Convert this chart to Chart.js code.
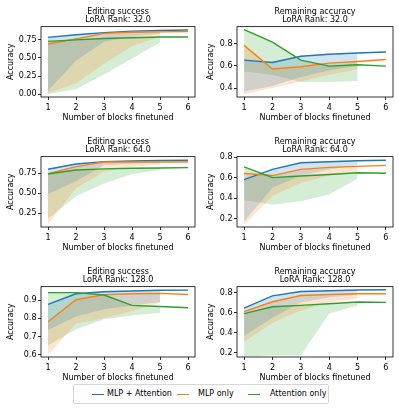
<!DOCTYPE html>
<html>
<head>
<meta charset="utf-8">
<script src="https://cdn.jsdelivr.net/npm/chart.js@4.4.1/dist/chart.umd.min.js"></script>
<style>
  body { margin: 0; background: #fff; width: 399px; height: 409px; position: relative; overflow: hidden; font-family: 'DejaVu Sans', sans-serif; }
  canvas { position: absolute; }
  #legend { position: absolute; left: 73px; top: 384px; width: 254px; height: 18px; border: 1px solid #d6d6d6; border-radius: 2px; background: #fff; }
  #legend .swatch { position: absolute; top: 8.5px; width: 12px; height: 1.4px; }
  #legend .label { position: absolute; top: 4px; font-size: 8px; line-height: 10px; color: #000; white-space: nowrap; }
</style>
</head>
<body>
<canvas id="c0" width="200" height="130" style="left:0;top:0"></canvas>
<canvas id="c1" width="199" height="130" style="left:200px;top:0"></canvas>
<canvas id="c2" width="200" height="130" style="left:0;top:130px"></canvas>
<canvas id="c3" width="199" height="130" style="left:200px;top:130px"></canvas>
<canvas id="c4" width="200" height="130" style="left:0;top:260px"></canvas>
<canvas id="c5" width="199" height="130" style="left:200px;top:260px"></canvas>
<div id="legend"></div>
<script>
// --- Data ---
const blocks = [1, 2, 3, 4, 5, 6];
const bandBlocks = [1, 2, 3, 4, 5];
const seriesNames = ['MLP + Attention', 'MLP only', 'Attention only'];
const ranks = [32.0, 64.0, 128.0];

// Editing success, rank 32
const edit32Both = [0.78, 0.815, 0.845, 0.865, 0.875, 0.88];
const edit32Mlp  = [0.69, 0.76, 0.835, 0.85, 0.855, 0.86];
const edit32Attn = [0.725, 0.745, 0.765, 0.775, 0.785, 0.785];
const edit32BothLow = [0.05, 0.46, 0.72, 0.79, 0.83];
const edit32MlpLow  = [0.02, 0.15, 0.42, 0.66, 0.79];
const edit32AttnLow = [0.005, 0.07, 0.27, 0.49, 0.71];
const edit32Ticks = [0, 0.25, 0.5, 0.75];

// Remaining accuracy, rank 32
const remain32Both = [0.652, 0.631, 0.687, 0.705, 0.716, 0.725];
const remain32Mlp  = [0.785, 0.572, 0.592, 0.625, 0.64, 0.658];
const remain32Attn = [0.927, 0.814, 0.652, 0.598, 0.61, 0.598];
const remain32BothLow = [0.37, 0.42, 0.5, 0.56, 0.6];
const remain32MlpLow  = [0.345, 0.4, 0.46, 0.52, 0.57];
const remain32AttnLow = [0.55, 0.52, 0.455, 0.455, 0.465];
const remain32Ticks = [0.4, 0.6, 0.8];

// Editing success, rank 64
const edit64Both = [0.80, 0.866, 0.895, 0.904, 0.91, 0.912];
const edit64Mlp  = [0.745, 0.833, 0.89, 0.89, 0.89, 0.89];
const edit64Attn = [0.74, 0.79, 0.804, 0.812, 0.816, 0.82];
const edit64BothLow = [0.49, 0.65, 0.85, 0.87, 0.88];
const edit64MlpLow  = [0.11, 0.56, 0.77, 0.83, 0.86];
const edit64AttnLow = [0.18, 0.46, 0.62, 0.74, 0.79];
const edit64Ticks = [0.25, 0.5, 0.75];

// Remaining accuracy, rank 64
const remain64Both = [0.58, 0.68, 0.745, 0.755, 0.765, 0.77];
const remain64Mlp  = [0.64, 0.62, 0.68, 0.70, 0.71, 0.72];
const remain64Attn = [0.705, 0.6, 0.615, 0.63, 0.648, 0.643];
const remain64BothLow = [0.17, 0.5, 0.62, 0.68, 0.72];
const remain64MlpLow  = [0.14, 0.42, 0.55, 0.62, 0.66];
const remain64AttnLow = [0.38, 0.335, 0.37, 0.435, 0.59];
const remain64Ticks = [0.2, 0.4, 0.6, 0.8];

// Editing success, rank 128
const edit128Both = [0.876, 0.935, 0.946, 0.95, 0.954, 0.955];
const edit128Mlp  = [0.781, 0.902, 0.93, 0.935, 0.937, 0.931];
const edit128Attn = [0.941, 0.941, 0.928, 0.871, 0.865, 0.858];
const edit128BothLow = [0.735, 0.81, 0.85, 0.87, 0.89];
const edit128MlpLow  = [0.6, 0.77, 0.80, 0.84, 0.885];
const edit128AttnLow = [0.65, 0.74, 0.795, 0.815, 0.83];
const edit128Ticks = [0.6, 0.7, 0.8, 0.9];

// Remaining accuracy, rank 128
const remain128Both = [0.644, 0.766, 0.81, 0.817, 0.824, 0.827];
const remain128Mlp  = [0.61, 0.708, 0.77, 0.78, 0.787, 0.787];
const remain128Attn = [0.59, 0.658, 0.672, 0.688, 0.705, 0.702];
const remain128BothLow = [0.37, 0.55, 0.7, 0.75, 0.78];
const remain128MlpLow  = [0.31, 0.5, 0.62, 0.7, 0.74];
const remain128AttnLow = [0.165, 0.175, 0.175, 0.59, 0.67];
const remain128Ticks = [0.2, 0.4, 0.6, 0.8];

// --- Styling ---
const colors = ['#1f77b4', '#ff7f0e', '#2ca02c'];
const fills = ['rgba(31,119,180,0.2)', 'rgba(255,127,14,0.2)', 'rgba(44,160,44,0.2)'];

Chart.defaults.font.family = "'DejaVu Sans', sans-serif";
Chart.defaults.font.size = 8;
Chart.defaults.color = '#000';

const panels = [
    { id: 'c0', metric: 'Editing success',    rank: ranks[0], lines: [edit32Both, edit32Mlp, edit32Attn],       lows: [edit32BothLow, edit32MlpLow, edit32AttnLow],       ticks: edit32Ticks,   min: -0.037, max: 0.927, dec: 2, left: true },
    { id: 'c1', metric: 'Remaining accuracy', rank: ranks[0], lines: [remain32Both, remain32Mlp, remain32Attn], lows: [remain32BothLow, remain32MlpLow, remain32AttnLow], ticks: remain32Ticks, min: 0.32,   max: 0.954, dec: 1, left: false },
    { id: 'c2', metric: 'Editing success',    rank: ranks[1], lines: [edit64Both, edit64Mlp, edit64Attn],       lows: [edit64BothLow, edit64MlpLow, edit64AttnLow],       ticks: edit64Ticks,   min: 0.075,  max: 0.958, dec: 2, left: true },
    { id: 'c3', metric: 'Remaining accuracy', rank: ranks[1], lines: [remain64Both, remain64Mlp, remain64Attn], lows: [remain64BothLow, remain64MlpLow, remain64AttnLow], ticks: remain64Ticks, min: 0.117,  max: 0.805, dec: 1, left: false },
    { id: 'c4', metric: 'Editing success',    rank: ranks[2], lines: [edit128Both, edit128Mlp, edit128Attn],    lows: [edit128BothLow, edit128MlpLow, edit128AttnLow],    ticks: edit128Ticks,  min: 0.587,  max: 0.974, dec: 1, left: true },
    { id: 'c5', metric: 'Remaining accuracy', rank: ranks[2], lines: [remain128Both, remain128Mlp, remain128Attn], lows: [remain128BothLow, remain128MlpLow, remain128AttnLow], ticks: remain128Ticks, min: 0.159, max: 0.858, dec: 1, left: false }
];

// axes box (matplotlib spines)
const frame = {
    id: 'frame',
    afterDatasetsDraw(chart) {
        const { ctx, chartArea: a } = chart;
        ctx.save();
        ctx.strokeStyle = '#000';
        ctx.lineWidth = 0.8;
        ctx.strokeRect(a.left, a.top, a.right - a.left, a.bottom - a.top);
        ctx.restore();
    }
};

function buildDatasets(p) {
    const ds = [];
    // lines first, green drawn on top
    p.lines.forEach((vals, s) => {
        ds.push({
            data: blocks.map((x, i) => ({ x, y: vals[i] })),
            borderColor: colors[s],
            borderWidth: 1.4,
            pointRadius: 0,
            fill: false,
            order: 3 - s
        });
    });
    // shaded bands: upper edge follows the line, lower edge from the low arrays
    p.lows.forEach((low, s) => {
        ds.push({
            data: bandBlocks.map((x, i) => ({ x, y: p.lines[s][i] })),
            borderWidth: 0,
            pointRadius: 0,
            fill: false,
            order: 10
        });
        ds.push({
            data: bandBlocks.map((x, i) => ({ x, y: low[i] })),
            borderWidth: 0,
            pointRadius: 0,
            backgroundColor: fills[s],
            fill: '-1',
            order: 10
        });
    });
    return ds;
}

panels.forEach(p => {
    const ctx = document.getElementById(p.id).getContext('2d');
    new Chart(ctx, {
        type: 'line',
        data: { datasets: buildDatasets(p) },
        options: {
            responsive: false,
            animation: false,
            devicePixelRatio: 1,
            layout: { padding: { left: 0, right: p.left ? 5 : 6, top: 0, bottom: 0 } },
            plugins: {
                legend: { display: false },
                tooltip: { enabled: false },
                filler: { drawTime: 'beforeDatasetsDraw' },
                title: {
                    display: true,
                    fullSize: false,
                    text: [p.metric, `LoRA Rank: ${p.rank.toFixed(1)}`],
                    font: { size: 8, weight: 'normal', lineHeight: 1.04 },
                    color: '#000',
                    padding: { top: 7.5, bottom: 2.5 }
                }
            },
            scales: {
                x: {
                    type: 'linear',
                    min: 0.75,
                    max: 6.25,
                    afterBuildTicks: s => { s.ticks = blocks.map(v => ({ value: v })); },
                    afterFit: s => { s.height = 33; },
                    ticks: { padding: 3.2, maxRotation: 0, callback: v => String(v) },
                    grid: { drawOnChartArea: false, tickLength: 3, color: '#000', lineWidth: 0.8 },
                    border: { display: false },
                    title: { display: true, text: 'Number of blocks finetuned', font: { size: 8 }, padding: { top: 0, bottom: 7 } }
                },
                y: {
                    min: p.min,
                    max: p.max,
                    afterBuildTicks: s => { s.ticks = p.ticks.map(v => ({ value: v })); },
                    afterFit: s => { s.width = p.left ? 41 : 37; },
                    ticks: { padding: 1.5, callback: v => v.toFixed(p.dec) },
                    grid: { drawOnChartArea: false, tickLength: 3, color: '#000', lineWidth: 0.8 },
                    border: { display: false },
                    title: { display: true, text: 'Accuracy', font: { size: 8 }, padding: { top: 6, bottom: 0 } }
                }
            }
        },
        plugins: [frame]
    });
});

// --- Shared legend under the grid ---
const legend = document.getElementById('legend');
const swatchX = [18, 103, 174];
const labelX = [33, 124, 196];
seriesNames.forEach((name, s) => {
    const sw = document.createElement('div');
    sw.className = 'swatch';
    sw.style.left = swatchX[s] + 'px';
    sw.style.background = colors[s];
    legend.appendChild(sw);
    const lb = document.createElement('div');
    lb.className = 'label';
    lb.style.left = labelX[s] + 'px';
    lb.textContent = name;
    legend.appendChild(lb);
});
</script>
</body>
</html>
